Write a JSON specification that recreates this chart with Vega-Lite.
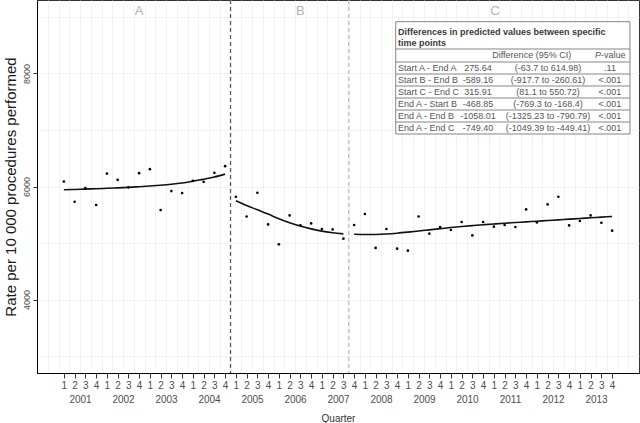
{
  "$schema": "https://vega.github.io/schema/vega-lite/v6.json",
  "width": 602,
  "height": 373,
  "autosize": {"type": "none"},
  "padding": {"left": 37, "top": 0, "right": 1, "bottom": 50},
  "background": "white",
  "config": {
    "font": "Liberation Sans",
    "view": {"stroke": "#333", "strokeWidth": 1},
    "axis": {"labelFont": "Liberation Sans", "titleFont": "Liberation Sans"},
    "text": {"font": "Liberation Sans"}
  },
  "datasets": {
    "obs": [
      {"t": 0, "rate": 6088}, {"t": 1, "rate": 5730}, {"t": 2, "rate": 5972}, {"t": 3, "rate": 5672},
      {"t": 4, "rate": 6229}, {"t": 5, "rate": 6118}, {"t": 6, "rate": 5985}, {"t": 7, "rate": 6236},
      {"t": 8, "rate": 6307}, {"t": 9, "rate": 5583}, {"t": 10, "rate": 5919}, {"t": 11, "rate": 5883},
      {"t": 12, "rate": 6100}, {"t": 13, "rate": 6083}, {"t": 14, "rate": 6242}, {"t": 15, "rate": 6360},
      {"t": 16, "rate": 5818}, {"t": 17, "rate": 5470}, {"t": 18, "rate": 5889}, {"t": 19, "rate": 5329},
      {"t": 20, "rate": 4976}, {"t": 21, "rate": 5488}, {"t": 22, "rate": 5312}, {"t": 23, "rate": 5347},
      {"t": 24, "rate": 5248}, {"t": 25, "rate": 5241}, {"t": 26, "rate": 5077}, {"t": 27, "rate": 5319},
      {"t": 28, "rate": 5513}, {"t": 29, "rate": 4913}, {"t": 30, "rate": 5248}, {"t": 31, "rate": 4900},
      {"t": 32, "rate": 4865}, {"t": 33, "rate": 5470}, {"t": 34, "rate": 5165}, {"t": 35, "rate": 5283},
      {"t": 36, "rate": 5230}, {"t": 37, "rate": 5371}, {"t": 38, "rate": 5135}, {"t": 39, "rate": 5371},
      {"t": 40, "rate": 5289}, {"t": 41, "rate": 5319}, {"t": 42, "rate": 5283}, {"t": 43, "rate": 5594},
      {"t": 44, "rate": 5365}, {"t": 45, "rate": 5683}, {"t": 46, "rate": 5818}, {"t": 47, "rate": 5312},
      {"t": 48, "rate": 5389}, {"t": 49, "rate": 5488}, {"t": 50, "rate": 5359}, {"t": 51, "rate": 5218}
    ],
    "fit": [
      {"segment": "A", "t": 0, "fit": 5942}, {"segment": "A", "t": 1, "fit": 5947}, {"segment": "A", "t": 2, "fit": 5954},
      {"segment": "A", "t": 3, "fit": 5961}, {"segment": "A", "t": 4, "fit": 5968}, {"segment": "A", "t": 5, "fit": 5976},
      {"segment": "A", "t": 6, "fit": 5985}, {"segment": "A", "t": 7, "fit": 5996}, {"segment": "A", "t": 8, "fit": 6008},
      {"segment": "A", "t": 9, "fit": 6022}, {"segment": "A", "t": 10, "fit": 6040}, {"segment": "A", "t": 11, "fit": 6063},
      {"segment": "A", "t": 12, "fit": 6094}, {"segment": "A", "t": 13, "fit": 6128}, {"segment": "A", "t": 14, "fit": 6168},
      {"segment": "A", "t": 15, "fit": 6219},
      {"segment": "B", "t": 16, "fit": 5748}, {"segment": "B", "t": 17, "fit": 5664}, {"segment": "B", "t": 18, "fit": 5588},
      {"segment": "B", "t": 19, "fit": 5512}, {"segment": "B", "t": 20, "fit": 5430}, {"segment": "B", "t": 21, "fit": 5360},
      {"segment": "B", "t": 22, "fit": 5300}, {"segment": "B", "t": 23, "fit": 5250}, {"segment": "B", "t": 24, "fit": 5210},
      {"segment": "B", "t": 25, "fit": 5182}, {"segment": "B", "t": 26, "fit": 5161},
      {"segment": "C", "t": 27, "fit": 5155}, {"segment": "C", "t": 28, "fit": 5150}, {"segment": "C", "t": 29, "fit": 5152},
      {"segment": "C", "t": 30, "fit": 5160}, {"segment": "C", "t": 31, "fit": 5174}, {"segment": "C", "t": 32, "fit": 5192},
      {"segment": "C", "t": 33, "fit": 5212}, {"segment": "C", "t": 34, "fit": 5233}, {"segment": "C", "t": 35, "fit": 5254},
      {"segment": "C", "t": 36, "fit": 5274}, {"segment": "C", "t": 37, "fit": 5292}, {"segment": "C", "t": 38, "fit": 5308},
      {"segment": "C", "t": 39, "fit": 5323}, {"segment": "C", "t": 40, "fit": 5337}, {"segment": "C", "t": 41, "fit": 5350},
      {"segment": "C", "t": 42, "fit": 5362}, {"segment": "C", "t": 43, "fit": 5374}, {"segment": "C", "t": 44, "fit": 5386},
      {"segment": "C", "t": 45, "fit": 5398}, {"segment": "C", "t": 46, "fit": 5410}, {"segment": "C", "t": 47, "fit": 5422},
      {"segment": "C", "t": 48, "fit": 5434}, {"segment": "C", "t": 49, "fit": 5446}, {"segment": "C", "t": 50, "fit": 5458},
      {"segment": "C", "t": 51, "fit": 5470}
    ],
    "table": [
      {"label": "Start A - End A", "diff": "275.64", "ci": "(-63.7 to 614.98)", "p": ".11"},
      {"label": "Start B - End B", "diff": "-589.16", "ci": "(-917.7 to -260.61)", "p": "<.001"},
      {"label": "Start C - End C", "diff": "315.91", "ci": "(81.1 to 550.72)", "p": "<.001"},
      {"label": "End A - Start B", "diff": "-468.85", "ci": "(-769.3 to -168.4)", "p": "<.001"},
      {"label": "End A - End B", "diff": "-1058.01", "ci": "(-1325.23 to -790.79)", "p": "<.001"},
      {"label": "End A - End C", "diff": "-749.40", "ci": "(-1049.39 to -449.41)", "p": "<.001"}
    ]
  },
  "resolve": {"scale": {"y": "independent"}, "axis": {"x": "independent", "y": "independent"}},
  "layer": [
    {
      "resolve": {"axis": {"x": "independent", "y": "independent"}},
      "layer": [
        {
          "data": {"values": [{}]},
          "mark": {"type": "rule", "color": "#555555", "strokeDash": [4, 3], "strokeWidth": 1.2},
          "encoding": {
            "x": {"datum": 15.5, "type": "quantitative",
              "axis": {"orient": "bottom", "values": [1.5, 5.5, 9.5, 13.5, 17.5, 21.5, 25.5, 29.5, 33.5, 37.5, 41.5, 45.5, 49.5],
                "labelExpr": "toString(2001 + floor(datum.value / 4))", "labelFontSize": 10, "labelColor": "#4d4d4d",
                "ticks": false, "domain": false, "grid": false, "labelPadding": 21, "labelOverlap": false, "labelFlush": false,
                "title": "Quarter", "titleFontSize": 10, "titleFontWeight": "normal", "titleColor": "#333333", "titlePadding": 9}}
          }
        },
        {
          "data": {"values": [{}]},
          "mark": {"type": "rule", "color": "#b0b0b0", "strokeDash": [4, 3], "strokeWidth": 1},
          "encoding": {"x": {"datum": 26.5, "type": "quantitative", "axis": null}}
        },
        {
          "data": {"name": "fit"},
          "mark": {"type": "line", "color": "#111111", "strokeWidth": 1.6, "interpolate": "monotone"},
          "encoding": {
            "x": {"field": "t", "type": "quantitative", "scale": {"domain": [-2.5, 53.5], "nice": false, "zero": false},
              "axis": {"orient": "bottom", "values": [-1.5, -0.5, 0.5, 1.5, 2.5, 3.5, 4.5, 5.5, 6.5, 7.5, 8.5, 9.5, 10.5, 11.5, 12.5, 13.5, 14.5, 15.5, 16.5, 17.5, 18.5, 19.5, 20.5, 21.5, 22.5, 23.5, 24.5, 25.5, 26.5, 27.5, 28.5, 29.5, 30.5, 31.5, 32.5, 33.5, 34.5, 35.5, 36.5, 37.5, 38.5, 39.5, 40.5, 41.5, 42.5, 43.5, 44.5, 45.5, 46.5, 47.5, 48.5, 49.5, 50.5, 51.5, 52.5],
                "grid": true, "gridColor": "#ededed", "gridWidth": 0.7, "ticks": false, "labels": false, "domain": false, "title": null}},
            "y": {"field": "fit", "type": "quantitative", "scale": {"domain": [2700, 9300], "nice": false, "zero": false},
              "axis": {"orient": "left", "values": [3000, 4000, 5000, 6000, 7000, 8000, 9000], "grid": true, "gridColor": "#ededed", "gridWidth": 0.7,
                "ticks": false, "labels": false, "domain": false, "title": null}},
            "detail": {"field": "segment", "type": "nominal"}
          }
        },
        {
          "data": {"name": "obs"},
          "mark": {"type": "point", "filled": true, "shape": "circle", "size": 7, "color": "#000000", "opacity": 1},
          "encoding": {
            "x": {"field": "t", "type": "quantitative",
              "axis": {"orient": "bottom", "values": [0, 1, 2, 3, 4, 5, 6, 7, 8, 9, 10, 11, 12, 13, 14, 15, 16, 17, 18, 19, 20, 21, 22, 23, 24, 25, 26, 27, 28, 29, 30, 31, 32, 33, 34, 35, 36, 37, 38, 39, 40, 41, 42, 43, 44, 45, 46, 47, 48, 49, 50, 51],
                "labelExpr": "toString(datum.value % 4 + 1)", "labelFontSize": 10, "labelColor": "#4d4d4d", "tickSize": 5, "tickColor": "#333333",
                "domainColor": "#000000", "labelPadding": 2, "grid": false, "title": null, "labelOverlap": false, "labelFlush": false}},
            "y": {"field": "rate", "type": "quantitative",
              "axis": {"orient": "left", "values": [4000, 6000, 8000], "format": "d", "labelAngle": 270, "labelAlign": "center", "labelBaseline": "bottom",
                "labelFontSize": 9, "labelColor": "#4d4d4d", "tickSize": 4, "tickColor": "#333333", "domainColor": "#000000", "labelPadding": 2,
                "grid": false, "title": "Rate per 10 000 procedures performed", "titleFontSize": 15, "titleFontWeight": "normal",
                "titleColor": "#1a1a1a", "titlePadding": 4}}
          }
        },
        {
          "data": {"values": [{}]},
          "mark": {"type": "text", "text": "A", "fontSize": 13, "color": "#b3b3b3", "align": "center", "baseline": "middle"},
          "encoding": {"x": {"datum": 7, "type": "quantitative", "axis": null}, "y": {"datum": 9105, "type": "quantitative", "axis": null}}
        },
        {
          "data": {"values": [{}]},
          "mark": {"type": "text", "text": "B", "fontSize": 13, "color": "#b3b3b3", "align": "center", "baseline": "middle"},
          "encoding": {"x": {"datum": 22, "type": "quantitative", "axis": null}, "y": {"datum": 9105, "type": "quantitative", "axis": null}}
        },
        {
          "data": {"values": [{}]},
          "mark": {"type": "text", "text": "C", "fontSize": 13, "color": "#b3b3b3", "align": "center", "baseline": "middle"},
          "encoding": {"x": {"datum": 40.1, "type": "quantitative", "axis": null}, "y": {"datum": 9105, "type": "quantitative", "axis": null}}
        },
        {
          "data": {"values": [{}]},
          "mark": {"type": "rect", "fill": "white", "stroke": "#858585", "strokeWidth": 1},
          "encoding": {
            "x": {"datum": 30.87, "type": "quantitative", "axis": null}, "x2": {"datum": 52.66},
            "y": {"datum": 8916, "type": "quantitative", "axis": null}, "y2": {"datum": 6929}
          }
        },
        {
          "data": {"values": [{}]},
          "mark": {"type": "text", "text": ["Differences in predicted values between specific", "time points"], "align": "left", "baseline": "top",
            "fontSize": 9, "fontWeight": "bold", "color": "#3a3a3a", "lineHeight": 11.5},
          "encoding": {"x": {"datum": 31.08, "type": "quantitative", "axis": null}, "y": {"datum": 8813, "type": "quantitative", "axis": null}}
        },
        {
          "data": {"values": [{}]},
          "mark": {"type": "rule", "color": "#858585", "strokeWidth": 1},
          "encoding": {"x": {"datum": 30.87, "type": "quantitative", "axis": null}, "x2": {"datum": 52.66}, "y": {"datum": 8433, "type": "quantitative", "axis": null}}
        },
        {
          "data": {"values": [{}]},
          "mark": {"type": "text", "text": "Difference (95% CI)", "align": "center", "baseline": "middle", "fontSize": 9, "color": "#555555"},
          "encoding": {"x": {"datum": 43.52, "type": "quantitative", "axis": null}, "y": {"datum": 8318, "type": "quantitative", "axis": null}}
        },
        {
          "data": {"values": [{}]},
          "mark": {"type": "text", "text": "P", "align": "right", "baseline": "middle", "fontSize": 9, "fontStyle": "italic", "color": "#555555"},
          "encoding": {"x": {"datum": 49.97, "type": "quantitative", "axis": null}, "y": {"datum": 8318, "type": "quantitative", "axis": null}}
        },
        {
          "data": {"values": [{}]},
          "mark": {"type": "text", "text": "-value", "align": "left", "baseline": "middle", "fontSize": 9, "color": "#555555"},
          "encoding": {"x": {"datum": 49.97, "type": "quantitative", "axis": null}, "y": {"datum": 8318, "type": "quantitative", "axis": null}}
        }
      ]
    },
    {
      "data": {"name": "table"},
      "layer": [
        {
          "mark": {"type": "rule", "color": "#858585", "strokeWidth": 1},
          "encoding": {
            "x": {"datum": 30.87, "type": "quantitative", "axis": null}, "x2": {"datum": 52.66},
            "y": {"field": "label", "type": "nominal", "bandPosition": 0, "axis": null,
              "scale": {"type": "band", "domain": ["Start A - End A", "Start B - End B", "Start C - End C", "End A - Start B", "End A - End B", "End A - End C"], "range": [62, 134], "paddingInner": 0, "paddingOuter": 0}}
          }
        },
        {
          "mark": {"type": "text", "align": "left", "baseline": "middle", "fontSize": 9, "color": "#555555"},
          "encoding": {
            "x": {"datum": 31.08, "type": "quantitative", "axis": null},
            "y": {"field": "label", "type": "nominal", "bandPosition": 0.5, "axis": null},
            "text": {"field": "label"}
          }
        },
        {
          "mark": {"type": "text", "align": "center", "baseline": "middle", "fontSize": 9, "color": "#555555"},
          "encoding": {
            "x": {"datum": 38.52, "type": "quantitative", "axis": null},
            "y": {"field": "label", "type": "nominal", "bandPosition": 0.5, "axis": null},
            "text": {"field": "diff"}
          }
        },
        {
          "mark": {"type": "text", "align": "center", "baseline": "middle", "fontSize": 9, "color": "#555555"},
          "encoding": {
            "x": {"datum": 45.03, "type": "quantitative", "axis": null},
            "y": {"field": "label", "type": "nominal", "bandPosition": 0.5, "axis": null},
            "text": {"field": "ci"}
          }
        },
        {
          "mark": {"type": "text", "align": "center", "baseline": "middle", "fontSize": 9, "color": "#555555"},
          "encoding": {
            "x": {"datum": 50.8, "type": "quantitative", "axis": null},
            "y": {"field": "label", "type": "nominal", "bandPosition": 0.5, "axis": null},
            "text": {"field": "p"}
          }
        }
      ]
    }
  ]
}
